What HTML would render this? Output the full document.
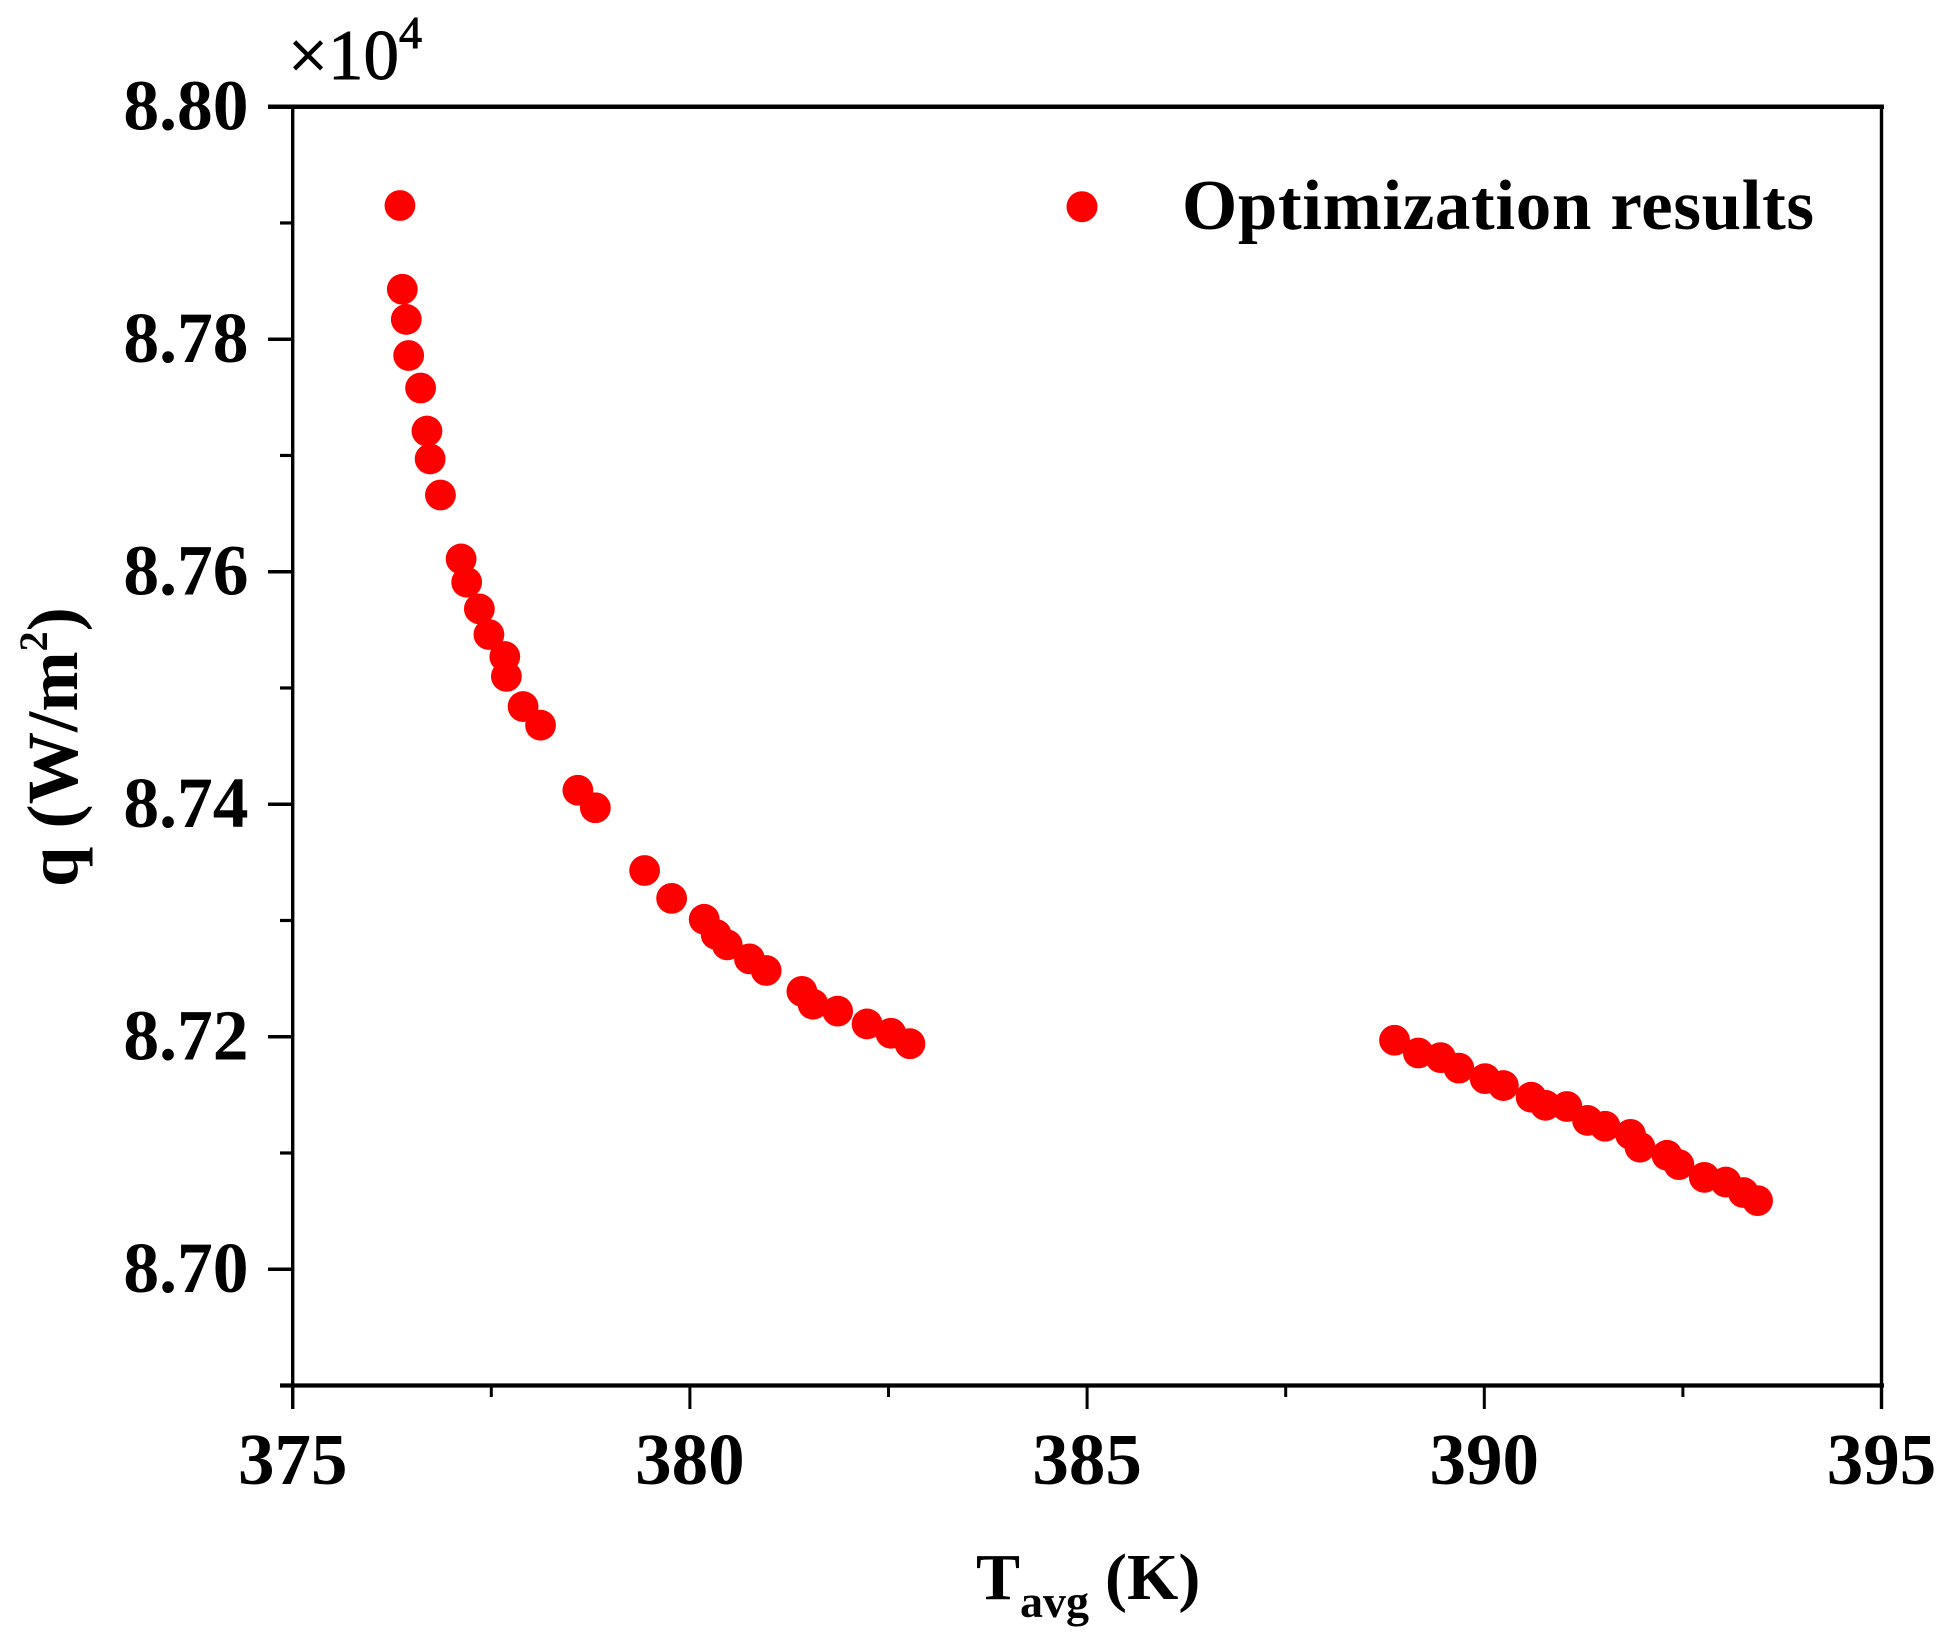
<!DOCTYPE html>
<html lang="en">
<head>
<meta charset="utf-8">
<title>Optimization results chart</title>
<style>
html,body{margin:0;padding:0;background:#fff;width:1952px;height:1649px;overflow:hidden}
svg{display:block}
text{font-family:"Liberation Serif",serif;fill:#000}
.b{font-weight:bold}
</style>
</head>
<body>
<svg id="chart" xmlns="http://www.w3.org/2000/svg" width="1952" height="1649" viewBox="0 0 1952 1649">
  <rect x="0" y="0" width="1952" height="1649" fill="#fff"/>
  <g id="marks"></g>
  <g id="axes"></g>
  <text x="288" y="79" font-size="71" stroke="#000" stroke-width="0.9">×10<tspan font-size="46" dy="-31">4</tspan></text>
  <text class="b" x="976" y="1599" font-size="66">T<tspan font-size="46" dy="18">avg</tspan><tspan dy="-18" dx="16">(K)</tspan></text>
  <text class="b" transform="translate(77,887) rotate(-90)" font-size="72.5">q (W/m<tspan font-size="40" dy="-30">2</tspan><tspan dy="30">)</tspan></text>
  <g>
    <circle cx="1082" cy="206.7" r="15.5" fill="#ff0000"/>
    <text class="b" x="1182" y="229" font-size="71" textLength="632" lengthAdjust="spacing">Optimization results</text>
  </g>
</svg>
<script>
const seriesT = [376.35,376.38,376.43,376.46,376.61,376.69,376.73,376.86,377.12,377.19,377.35,377.47,377.67,377.69,377.90,378.12,378.59,378.81,379.43,379.77,380.18,380.33,380.47,380.75,380.96,381.41,381.55,381.86,382.23,382.53,382.77,388.87,389.17,389.45,389.68,390.01,390.24,390.59,390.77,391.04,391.30,391.52,391.84,391.96,392.30,392.45,392.77,393.04,393.26,393.44];
const seriesQ = [8.7915,8.7843,8.7817,8.7786,8.7758,8.7721,8.7697,8.7666,8.7611,8.7591,8.7568,8.7546,8.7527,8.7510,8.7484,8.7468,8.7412,8.7397,8.7343,8.7319,8.7301,8.7288,8.7279,8.7267,8.7257,8.7239,8.7228,8.7222,8.7211,8.7203,8.7194,8.7197,8.7186,8.7182,8.7173,8.7164,8.7158,8.7148,8.7141,8.7140,8.7128,8.7123,8.7116,8.7105,8.7098,8.7090,8.7079,8.7075,8.7066,8.7059];
const xMajorTicks = [375,380,385,390,395];
const xMinorTicks = [377.5,382.5,387.5,392.5];
const yMajorTicks = [8.70,8.72,8.74,8.76,8.78,8.80];
const yMinorTicks = [8.69,8.71,8.73,8.75,8.77,8.79];
const yTickLabels = ["8.70","8.72","8.74","8.76","8.78","8.80"];
const xTickLabels = ["375","380","385","390","395"];

const NS = "http://www.w3.org/2000/svg";
const plot = {left:292.7, right:1881.5, top:106.7, bottom:1385.5};
const xDomain = [375,395];
const yDomain = [8.69,8.80];
function xScale(v){return plot.left+(v-xDomain[0])/(xDomain[1]-xDomain[0])*(plot.right-plot.left);}
function yScale(v){return plot.bottom-(v-yDomain[0])/(yDomain[1]-yDomain[0])*(plot.bottom-plot.top);}

const axes = document.getElementById("axes");
const marks = document.getElementById("marks");

function addLine(name,x1,y1,x2,y2,w){
  const l = document.createElementNS(NS,"line");
  l.setAttribute("x1",x1);
  l.setAttribute("y1",y1);
  l.setAttribute("x2",x2);
  l.setAttribute("y2",y2);
  l.setAttribute("stroke","#000");
  l.setAttribute("stroke-width",w);
  
  
  axes.appendChild(l);
}
function addLabel(name,x,y,anchor,str,size){
  const t = document.createElementNS(NS,"text");
  t.setAttribute("x",x);
  t.setAttribute("y",y);
  t.setAttribute("text-anchor",anchor);
  t.setAttribute("font-size",size);
  t.setAttribute("class","b");
  
  
  t.textContent = str;
  axes.appendChild(t);
}

addLine("left-axis-line",plot.left,plot.top,plot.left,1409,3.4);
addLine("right-axis-line",plot.right,plot.top,plot.right,1409,3.4);
addLine("top-axis-line",268,plot.top,1884,plot.top,4.5);
addLine("bottom-axis-line",280,plot.bottom,1884,plot.bottom,4.2);

yMajorTicks.forEach(function(v,i){
  if(v!==yDomain[1]) addLine("y-major-tick",268,yScale(v),plot.left,yScale(v),3.5);
  addLabel("y-tick-label",248.5,yScale(v)+23,"end",yTickLabels[i],"71.5");
});
yMinorTicks.forEach(function(v){
  addLine("y-minor-tick",280,yScale(v),plot.left,yScale(v),3.2);
});
xMajorTicks.forEach(function(v,i){
  addLine("x-major-tick",xScale(v),plot.bottom,xScale(v),1409,3);
  addLabel("x-tick-label",xScale(v),1484,"middle",xTickLabels[i],"73");
});
xMinorTicks.forEach(function(v){
  addLine("x-minor-tick",xScale(v),plot.bottom,xScale(v),1397,3);
});
seriesT.forEach(function(t,i){
  const c = document.createElementNS(NS,"circle");
  c.setAttribute("cx",xScale(t));
  c.setAttribute("cy",yScale(seriesQ[i]));
  c.setAttribute("r","15.4");
  c.setAttribute("fill","#ff0000");
  
  
  marks.appendChild(c);
});
</script>
</body>
</html>
